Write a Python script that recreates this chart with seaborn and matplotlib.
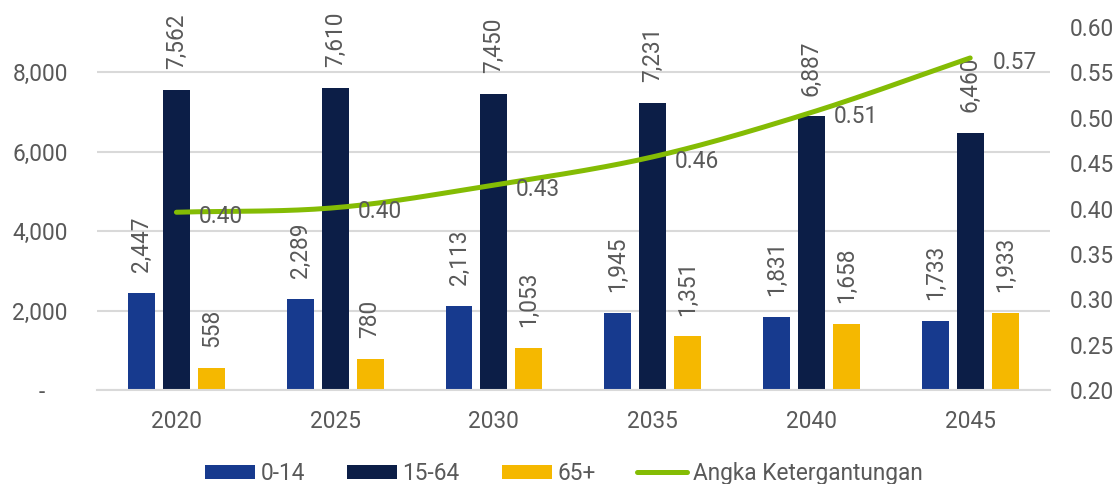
import numpy as np
import pandas as pd
import matplotlib
matplotlib.use("Agg")
import matplotlib.pyplot as plt
import seaborn as sns
from matplotlib.patches import Patch
from matplotlib.lines import Line2D

years = ["2020", "2025", "2030", "2035", "2040", "2045"]
age_0_14 = [2447, 2289, 2113, 1945, 1831, 1733]
age_15_64 = [7562, 7610, 7450, 7231, 6887, 6460]
age_65_plus = [558, 780, 1053, 1351, 1658, 1933]
dependency = [0.396, 0.401, 0.426, 0.457, 0.506, 0.566]
series_names = ["0-14", "15-64", "65+"]
line_name = "Angka Ketergantungan"

colors = {"0-14": "#173A8E", "15-64": "#0C1E47", "65+": "#F5B800"}
line_color = "#84BC04"
text_color = "#595959"
grid_color = "#D9D9D9"

sns.set_theme(style="white")
plt.rcParams["font.family"] = ["Roboto", "DejaVu Sans"]

df = pd.DataFrame({
    "year": years * 3,
    "group": sum([[n] * len(years) for n in series_names], []),
    "value": age_0_14 + age_15_64 + age_65_plus,
})

fig = plt.figure(figsize=(11.18, 4.84), dpi=100)
ax = fig.add_axes([0.0868, 0.194, 0.852, 0.750])

sns.barplot(data=df, x="year", y="value", hue="group", hue_order=series_names,
            palette=colors, width=0.66, gap=0.23, ax=ax, legend=False,
            saturation=1, edgecolor="none")

fs = 16.3
for cont in ax.containers:
    vals = [b.get_height() for b in cont]
    ax.bar_label(cont, labels=[f"{v:,.0f}" for v in vals], rotation=90,
                 padding=15, fontsize=fs, color=text_color)

ax.set_xlim(-0.5, 5.5)
ax.set_ylim(0, 9132)
ax.set_yticks([0, 2000, 4000, 6000, 8000])
ax.set_yticklabels(["-    ", "2,000", "4,000", "6,000", "8,000"])
ax.set_xlabel("")
ax.set_ylabel("")
ax.yaxis.grid(True, color=grid_color, linewidth=1.5)
ax.set_axisbelow(True)
for s in ["left", "right", "top"]:
    ax.spines[s].set_visible(False)
ax.spines["bottom"].set_color(grid_color)
ax.spines["bottom"].set_linewidth(1.5)
ax.tick_params(axis="y", length=0, pad=21, labelsize=fs, labelcolor=text_color)
ax.tick_params(axis="x", length=0, pad=14, labelsize=fs, labelcolor=text_color)

ax2 = ax.twinx()
ax2.set_ylim(0.20, 0.60)
ax2.set_yticks(np.arange(0.20, 0.601, 0.05))
ax2.set_yticklabels([f"{t:.2f}" for t in np.arange(0.20, 0.601, 0.05)])
ax2.tick_params(axis="y", length=0, pad=14.4, labelsize=fs, labelcolor=text_color)
for s in ["left", "right", "top", "bottom"]:
    ax2.spines[s].set_visible(False)

# Catmull-Rom smoothing of the dependency line
xp = np.arange(len(years), dtype=float)
yp = np.array(dependency)
P = np.column_stack([xp, yp])
Pext = np.vstack([2 * P[0] - P[1], P, 2 * P[-1] - P[-2]])
sx, sy = [], []
for i in range(1, len(Pext) - 2):
    p0, p1, p2, p3 = Pext[i - 1], Pext[i], Pext[i + 1], Pext[i + 2]
    for t in np.linspace(0, 1, 30, endpoint=(i == len(Pext) - 3)):
        pt = 0.5 * ((2 * p1) + (-p0 + p2) * t + (2 * p0 - 5 * p1 + 4 * p2 - p3) * t ** 2
                    + (-p0 + 3 * p1 - 3 * p2 + p3) * t ** 3)
        sx.append(pt[0]); sy.append(pt[1])
sns.lineplot(x=sx, y=sy, sort=False, ax=ax2, color=line_color, linewidth=3.6,
             solid_capstyle="round", legend=False)
for x, v in zip(xp, dependency):
    ax2.annotate(f"{v:.2f}", (x, v), xytext=(16, -3), textcoords="offset points",
                 ha="left", va="center", fontsize=fs, color=text_color)

handles = [Patch(facecolor=colors[n], edgecolor="none") for n in series_names]
handles.append(Line2D([0], [0], color=line_color, linewidth=3.6, solid_capstyle="round"))
fig.legend(handles, series_names + [line_name], loc="center",
           bbox_to_anchor=(564 / 1118, 0.022), ncol=4, frameon=False,
           fontsize=fs, labelcolor=text_color, handlelength=2.2, handleheight=0.55,
           handletextpad=0.25, columnspacing=1.85, borderpad=0)

fig.savefig("out.png", dpi=100)
